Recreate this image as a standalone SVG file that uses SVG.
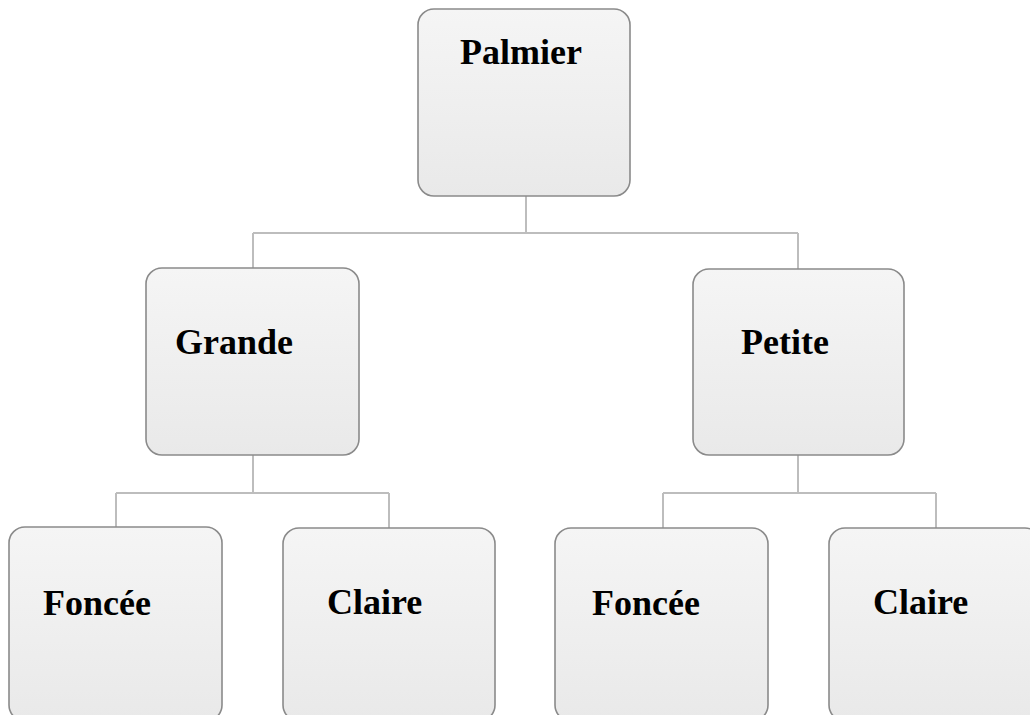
<svg xmlns="http://www.w3.org/2000/svg" width="1030" height="715" viewBox="0 0 1030 715">
<defs>
<linearGradient id="g" x1="0" y1="0" x2="0" y2="1">
<stop offset="0" stop-color="#f5f5f5"/>
<stop offset="1" stop-color="#e9e9e9"/>
</linearGradient>
<style>
.box{fill:url(#g);stroke:#8a8a8a;stroke-width:1.6}
.lbl{font-family:"Liberation Serif","Times New Roman",serif;font-weight:bold;font-size:36px;fill:#000}
.con{fill:none;stroke:#bdbdbd;stroke-width:2}
</style>
</defs>
<rect width="1030" height="715" fill="#fff"/>
<g id="connectors">
<path class="con" d="M526 196 V233 M253 233 H798 M253 233 V268 M798 233 V269"/>
<path class="con" d="M253 455 V493 M116 493 H389 M116 493 V527 M389 493 V528"/>
<path class="con" d="M798 455 V493 M663 493 H936 M663 493 V528 M936 493 V528"/>
</g>
<g id="palmier">
<rect class="box" x="418" y="9" width="212" height="187" rx="16"/>
<text class="lbl" x="460" y="64">Palmier</text>
</g>
<g id="grande">
<rect class="box" x="146" y="268" width="213" height="187" rx="16"/>
<text class="lbl" x="175" y="354">Grande</text>
</g>
<g id="petite">
<rect class="box" x="693" y="269" width="211" height="186" rx="16"/>
<text class="lbl" x="741" y="354">Petite</text>
</g>
<g id="foncee1">
<rect class="box" x="9" y="527" width="213" height="194" rx="16"/>
<text class="lbl" x="43" y="615">Foncée</text>
</g>
<g id="claire1">
<rect class="box" x="283" y="528" width="212" height="193" rx="16"/>
<text class="lbl" x="327" y="614">Claire</text>
</g>
<g id="foncee2">
<rect class="box" x="555" y="528" width="213" height="193" rx="16"/>
<text class="lbl" x="592" y="615">Foncée</text>
</g>
<g id="claire2">
<rect class="box" x="829" y="528" width="212" height="193" rx="16"/>
<text class="lbl" x="873" y="614">Claire</text>
</g>
</svg>
